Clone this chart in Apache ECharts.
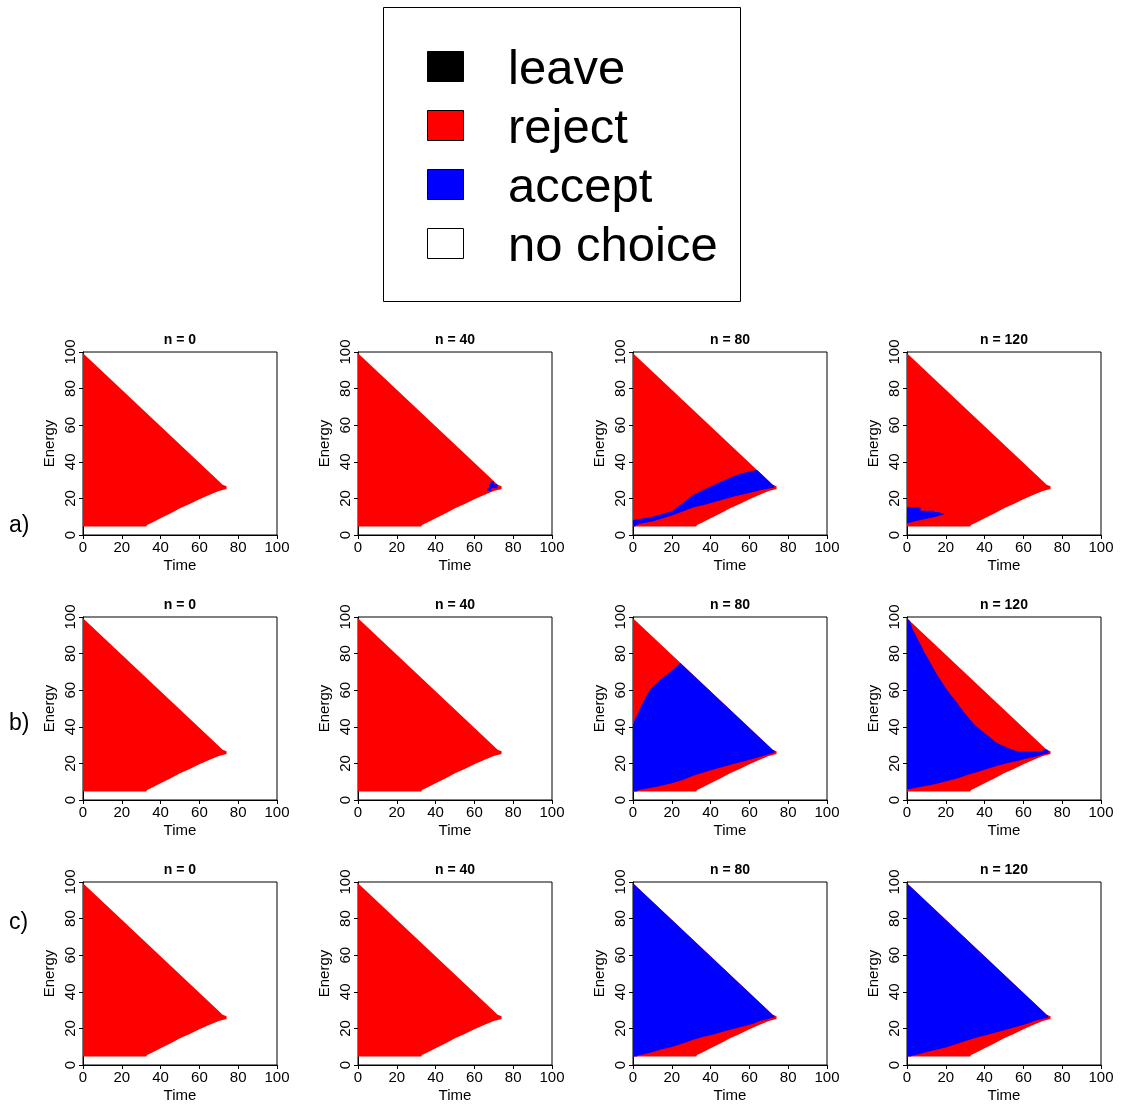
<!DOCTYPE html>
<html>
<head>
<meta charset="utf-8">
<script src="https://cdn.jsdelivr.net/npm/echarts@6/dist/echarts.min.js"></script>
<style>
  html, body { margin: 0; padding: 0; background: #fff; }
  #chart { width: 1125px; height: 1104px; }
</style>
</head>
<body>
<div id="chart"></div>
<script>
// titles and labels
const panelTitles = ["n = 0", "n = 40", "n = 80", "n = 120"];
const rowLabels = ["a)", "b)", "c)"];
const legendLabels = ["leave", "reject", "accept", "no choice"];
const legendColors = ["#000000", "#ff0000", "#0000ff", "#ffffff"];

// outline of all states (Time, Energy) where a choice is made -> "reject" by default
const feasible = [[0, 99.3], [72, 27.4], [73, 27], [74, 26.6], [74, 25.2], [72, 24.6], [70, 24],
  [65, 21.8], [60, 19.6], [55, 17], [50, 14.6], [45, 11.8], [40, 9.1], [36, 7], [33, 5.5],
  [32.6, 4.6], [0, 4.6]];

// "accept" regions
const acceptA40 = [[66.6, 24.2], [68.8, 24.2], [68.8, 25.5], [71.9, 25.5], [71.9, 27.7], [70, 27.7],
  [70, 29.5], [68.3, 29.5], [68.3, 27.7], [67.5, 27.7], [67.5, 25.5], [66.6, 25.5]];
const acceptA80 = [[0, 4.6], [0, 8.2], [5, 9], [10, 10], [15, 11.5], [20, 13], [25, 17], [31, 21.8],
  [38, 25.5], [45, 29], [50, 31.3], [55, 33.4], [60, 34.7], [64, 35.5], [72, 27.4], [72.8, 27],
  [72.8, 25.8], [70, 25.4], [66, 24.6], [62, 23.5], [57, 22.3], [52, 21], [47, 19.6], [42, 18],
  [37, 16.5], [31, 15], [25, 12.6], [20, 10.6], [15, 9], [10, 7.4], [5, 6.4], [2, 5.6], [1, 4.6]];
const acceptA120 = [[0, 15.2], [7, 15.2], [7, 13.3], [14, 13.3], [14, 12.6], [17, 12.6], [17, 12],
  [19, 12], [19, 11.2], [17, 10.6], [14, 9.7], [7, 8.2], [3, 7.3], [1, 6.5], [0, 6.3]];
const acceptB80 = [[0, 4.6], [0, 41], [1, 44], [3, 48.4], [5, 53], [7.2, 57.5], [9, 60.5], [11.5, 63],
  [13.5, 65.3], [15.8, 67.2], [18, 69], [20, 70.6], [22, 72.5], [24.4, 74.9], [72, 27.4], [72.8, 27],
  [72.8, 25.8], [70, 25], [65.6, 23.7], [57, 21], [52, 19.8], [46.7, 18.2], [41, 16.5], [36.4, 15],
  [31, 13.2], [26, 11], [20, 9.1], [12.4, 7.3], [6, 6], [3, 5.4], [2, 4.6]];
const acceptB120 = [[0, 5.8], [0, 99.3], [1.5, 97.8], [3, 93], [4.5, 90.2], [5.7, 87.6], [7.5, 84],
  [9.1, 80.3], [11, 77], [12.6, 73.9], [14.3, 70.6], [16, 67.5], [18, 64.5], [19.5, 62], [22, 58.2],
  [24.7, 54.7], [27, 51.3], [29.8, 47.4], [32.5, 44], [35, 41], [37.5, 38.7], [40.2, 36.5], [43, 34],
  [45.3, 31.9], [48, 30.3], [50.5, 29.2], [53, 28], [55.7, 27], [58, 26.5], [69.5, 26.5], [70.5, 27.6],
  [72.3, 27.6], [73, 26.6], [73, 25.5], [71, 25.2], [66, 23.7], [61, 22.5], [57.4, 21.5], [52, 20.2],
  [47, 18.8], [42, 17.2], [36.7, 15.5], [31, 13.6], [26.4, 11.9], [20.3, 10.2], [14.3, 8.6],
  [7.4, 7.3], [3, 6.3]];
const acceptC80 = [[0, 4.6], [0, 99.3], [72, 27.4], [72.8, 27], [72.8, 25.8], [70.8, 25.5], [68, 24.6],
  [65.6, 24.2], [62, 22.6], [57, 21.2], [52, 19.8], [46.7, 18.3], [41.6, 16.6], [36.4, 15.5], [31, 13.8],
  [26, 11.9], [20, 9.9], [14, 8.3], [9.8, 7], [5.5, 5.9], [2.5, 5.2], [2, 4.6]];
const acceptC120 = [[0, 4.6], [0, 99.3], [72, 27.4], [72.8, 27], [72.8, 25.8], [70.8, 25.4], [66, 24.2],
  [62, 22.6], [57, 21], [52, 19.6], [46.7, 18], [41.6, 16.5], [36.4, 15.2], [31, 13.4], [26, 11.6],
  [20, 9.6], [14, 8], [9.8, 6.9], [5.5, 5.7], [2.5, 5.1], [2, 4.6]];

// row a, b, c ; columns n = 0, 40, 80, 120
const acceptByPanel = [
  [[], [acceptA40], [acceptA80], [acceptA120]],
  [[], [], [acceptB80], [acceptB120]],
  [[], [], [acceptC80], [acceptC120]]
];

const FONT = "'Liberation Sans', Arial, Helvetica, sans-serif";
const colX = [83, 358, 633, 907];
const rowY = [352, 617, 882];
const W = 194, H = 183;

const chart = echarts.init(document.getElementById("chart"), null, { renderer: "canvas" });

const grids = [], xAxes = [], yAxes = [], series = [], titles = [];
rowY.forEach((top, r) => {
  colX.forEach((left, c) => {
    const i = grids.length;
    grids.push({ left, top, width: W, height: H, show: true, borderColor: "#000", borderWidth: 1,
      backgroundColor: "transparent" });
    xAxes.push({
      gridIndex: i, type: "value", min: 0, max: 100, interval: 20,
      axisLine: { show: true, onZero: false, lineStyle: { color: "#000", width: 1 } },
      axisTick: { show: true, length: 4, lineStyle: { color: "#000" } },
      axisLabel: { color: "#000", fontSize: 15, margin: 5, fontFamily: FONT },
      splitLine: { show: false },
      name: "Time", nameLocation: "middle", nameGap: 23,
      nameTextStyle: { color: "#000", fontSize: 15, fontFamily: FONT }
    });
    yAxes.push({
      gridIndex: i, type: "value", min: 0, max: 100, interval: 20,
      axisLine: { show: true, onZero: false, lineStyle: { color: "#000", width: 1 } },
      axisTick: { show: true, length: 4, lineStyle: { color: "#000" } },
      axisLabel: { color: "#000", fontSize: 15, margin: 5, rotate: 90, fontFamily: FONT },
      splitLine: { show: false },
      name: "Energy", nameLocation: "middle", nameGap: 26,
      nameTextStyle: { color: "#000", fontSize: 15, fontFamily: FONT }
    });
    titles.push({
      text: panelTitles[c], left: left + W / 2, top: top - 19, textAlign: "center", padding: 0,
      textStyle: { color: "#000", fontSize: 14, fontWeight: "bold", fontFamily: FONT }
    });

    const regions = [{ pts: feasible, color: legendColors[1] }]
      .concat(acceptByPanel[r][c].map(p => ({ pts: p, color: legendColors[2] })));
    series.push({
      type: "custom", xAxisIndex: i, yAxisIndex: i, silent: true, animation: false,
      data: regions.map((_, k) => [k]),
      renderItem: (params, api) => {
        const reg = regions[params.dataIndex];
        return {
          type: "polygon",
          shape: { points: reg.pts.map(p => api.coord(p)) },
          style: { fill: reg.color, stroke: null }
        };
      }
    });
  });
});

// legend box + row labels
const graphic = [{
  type: "rect", shape: { x: 383.5, y: 7.5, width: 357, height: 294 },
  style: { fill: "#fff", stroke: "#000", lineWidth: 1 }
}];
legendLabels.forEach((lab, i) => {
  graphic.push({
    type: "rect", shape: { x: 427.5, y: 51.5 + 59 * i, width: 36, height: 30 },
    style: { fill: legendColors[i], stroke: "#000", lineWidth: 1 }
  });
  graphic.push({
    type: "text", left: 508, top: 46 + 59 * i,
    style: { text: lab, fontSize: 49, fill: "#000", fontFamily: FONT }
  });
});
const rowLabelY = [526, 724, 923];
rowLabels.forEach((lab, r) => {
  graphic.push({
    type: "text", left: 9, top: rowLabelY[r] - 12,
    style: { text: lab, fontSize: 23, fill: "#000", fontFamily: FONT }
  });
});

chart.setOption({
  backgroundColor: "#fff",
  animation: false,
  title: titles,
  grid: grids,
  xAxis: xAxes,
  yAxis: yAxes,
  series,
  graphic
});
</script>
</body>
</html>
